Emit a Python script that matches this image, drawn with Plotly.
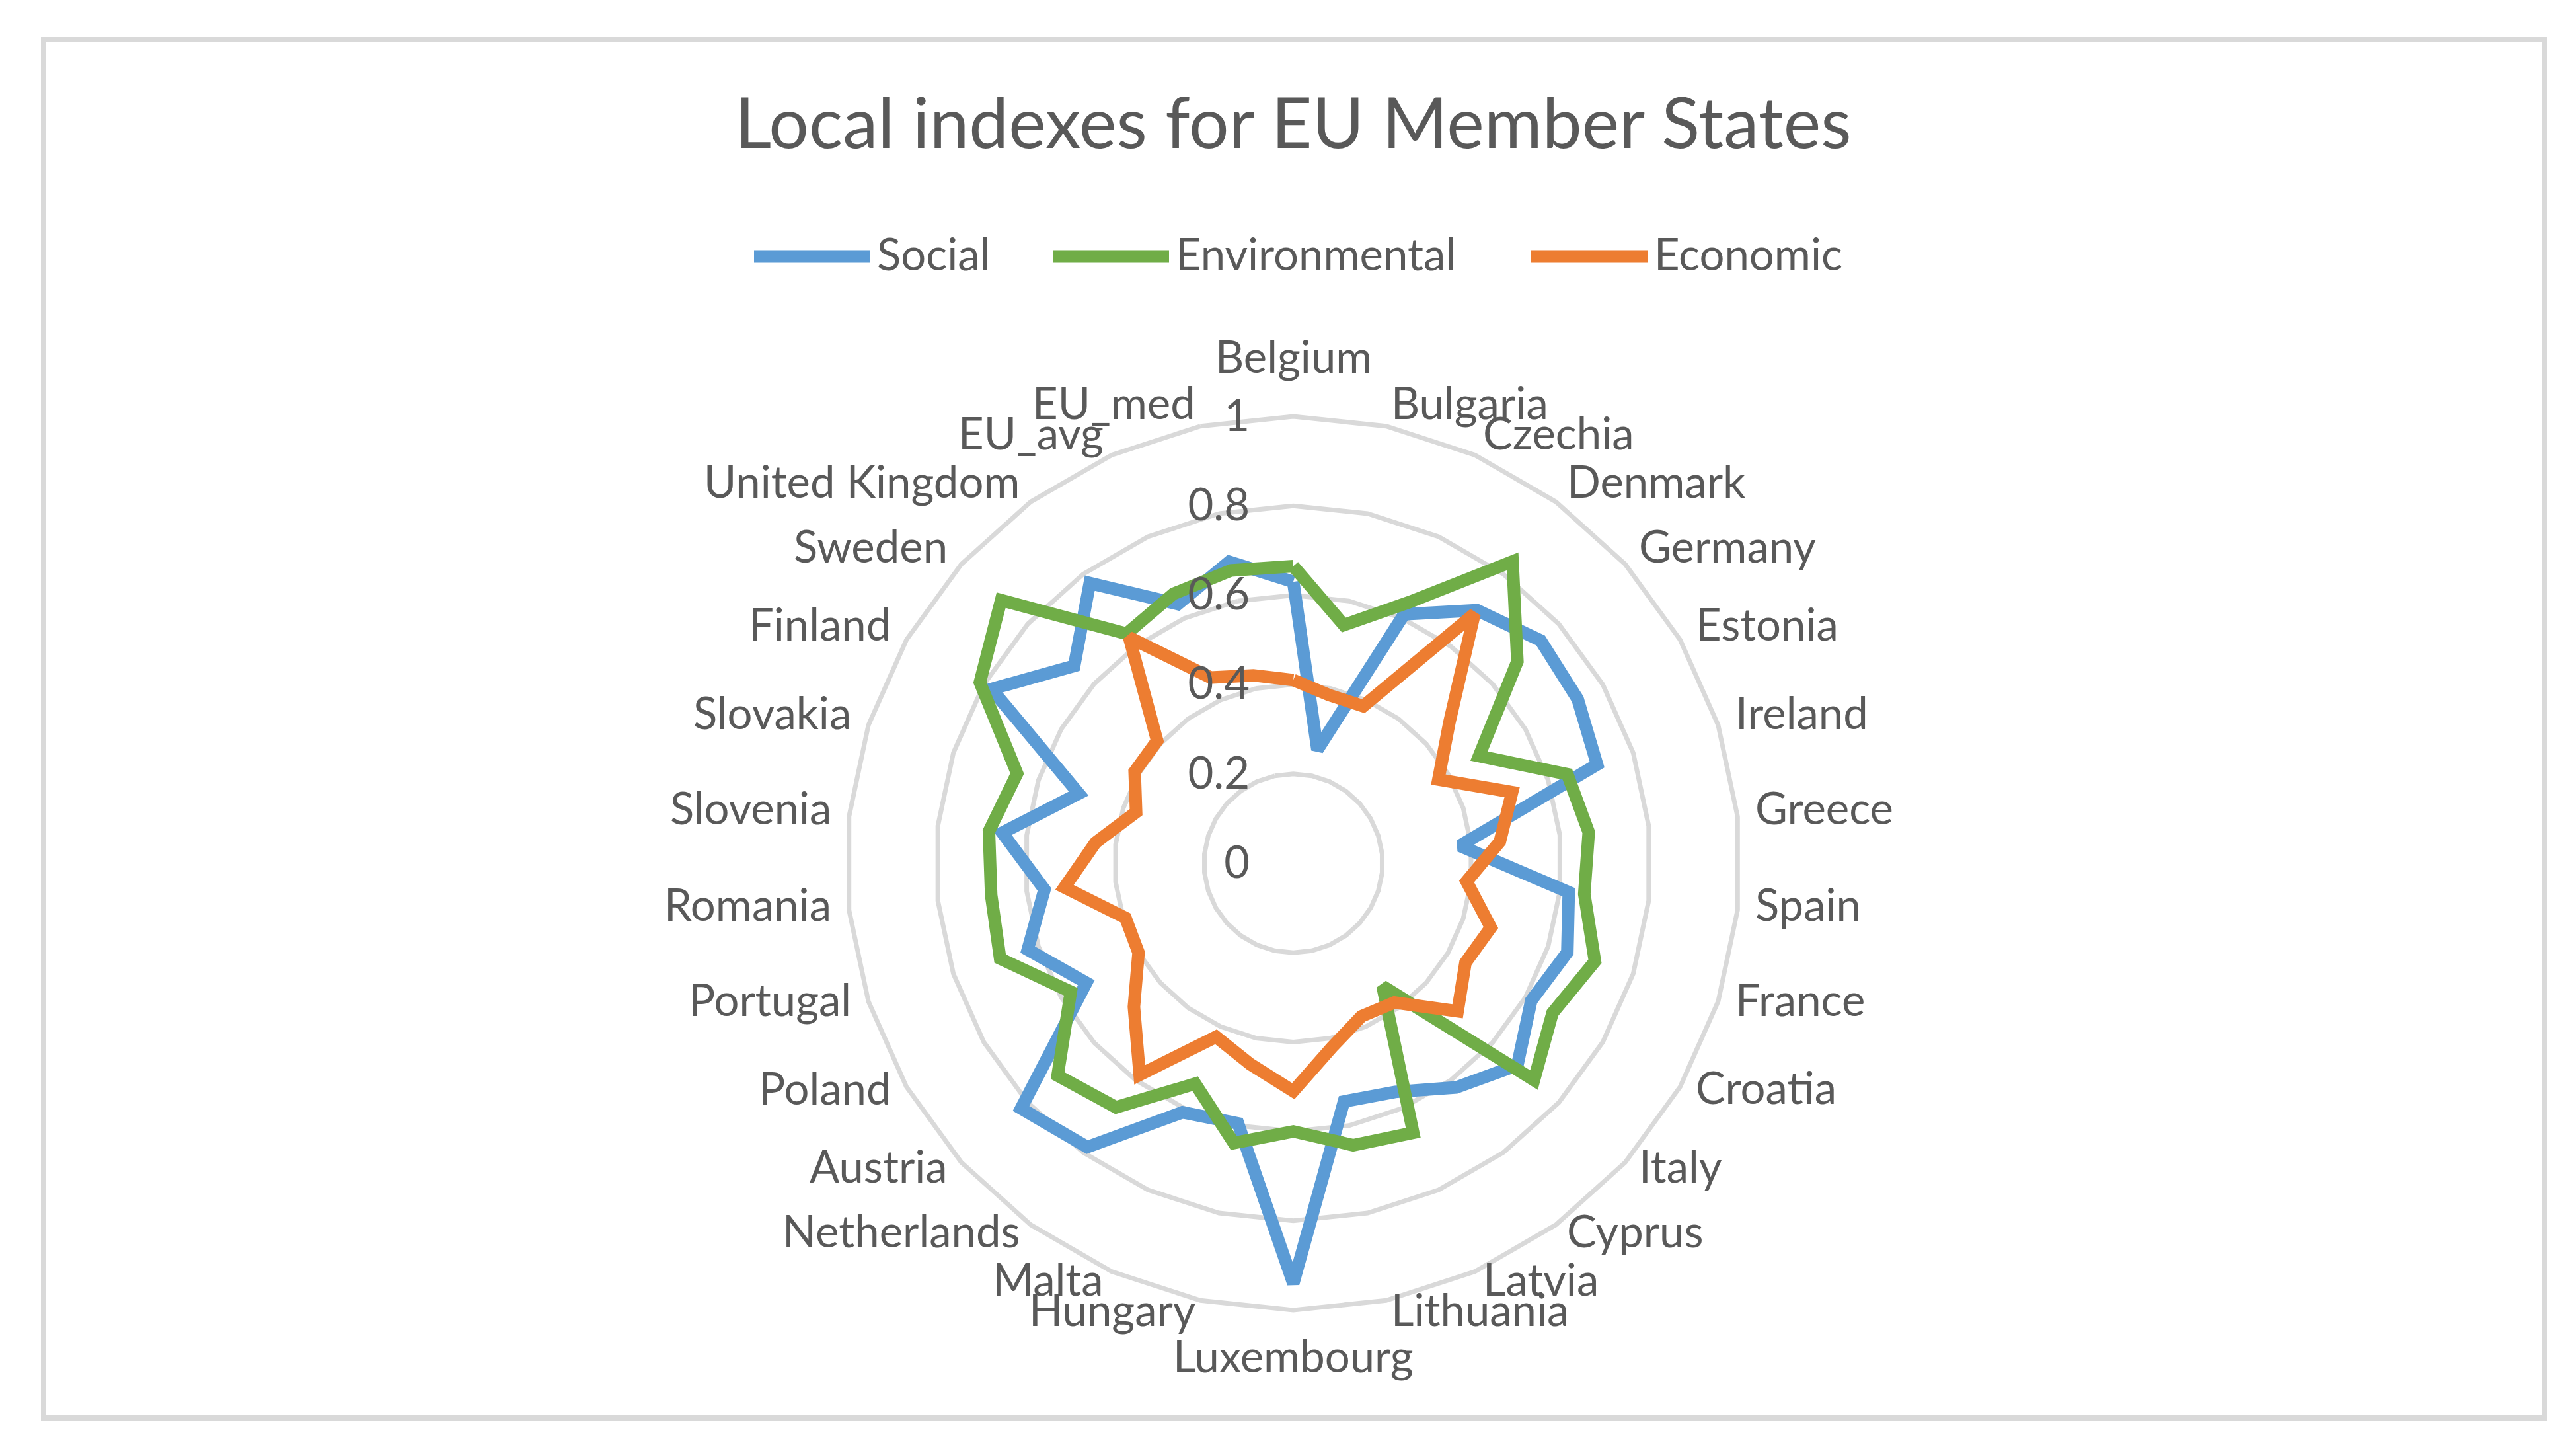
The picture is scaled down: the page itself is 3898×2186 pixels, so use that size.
import math

import plotly.graph_objects as go

# Categories (clockwise from top) and index values
countries = [
    "Belgium", "Bulgaria", "Czechia", "Denmark", "Germany", "Estonia",
    "Ireland", "Greece", "Spain", "France", "Croatia", "Italy", "Cyprus",
    "Latvia", "Lithuania", "Luxembourg", "Hungary", "Malta", "Netherlands",
    "Austria", "Poland", "Portugal", "Romania", "Slovenia", "Slovakia",
    "Finland", "Sweden", "United Kingdom", "EU_avg", "EU_med",
]
social = [
    0.63, 0.26, 0.61, 0.70, 0.745, 0.735, 0.715, 0.375, 0.62, 0.645,
    0.615, 0.675, 0.62, 0.56, 0.545, 0.94, 0.595, 0.61, 0.785, 0.82,
    0.535, 0.625, 0.56, 0.655, 0.505, 0.78, 0.66, 0.775, 0.635, 0.69,
]
environmental = [
    0.665, 0.545, 0.64, 0.835, 0.675, 0.48, 0.645, 0.665, 0.655, 0.71,
    0.67, 0.725, 0.34, 0.66, 0.645, 0.60, 0.64, 0.54, 0.675, 0.71,
    0.575, 0.69, 0.68, 0.685, 0.65, 0.81, 0.88, 0.635, 0.66, 0.67,
]
economic = [
    0.41, 0.385, 0.385, 0.69, 0.47, 0.375, 0.515, 0.465, 0.39, 0.465,
    0.445, 0.495, 0.385, 0.375, 0.42, 0.51, 0.46, 0.425, 0.585, 0.48,
    0.40, 0.395, 0.515, 0.445, 0.37, 0.41, 0.41, 0.625, 0.455, 0.43,
]
radial_ticks = [0, 0.2, 0.4, 0.6, 0.8, 1]

series = [
    ("Social", social, "#5B9BD5"),
    ("Environmental", environmental, "#70AD47"),
    ("Economic", economic, "#ED7D31"),
]

FONT = "Lato, 'Open Sans', sans-serif"
TEXT = "#595959"
GRID = "#D9D9D9"
W, H = 3898, 2186
LABEL_SIZE = 67

fig = go.Figure()

for name, values, color in series:
    # close the loop like a radar chart
    fig.add_trace(
        go.Scatterpolar(
            r=values + values[:1],
            theta=countries + countries[:1],
            mode="lines",
            name=name,
            line=dict(color=color, width=19),
            showlegend=False,
        )
    )

# polar placed by pixel centre/radius
cx, cy, rad = 1949, 1298, 676
fig.update_layout(
    polar=dict(
        domain=dict(
            x=[(cx - rad) / W, (cx + rad) / W],
            y=[(H - cy - rad) / H, (H - cy + rad) / H],
        ),
        gridshape="linear",
        bgcolor="white",
        radialaxis=dict(
            range=[0, 1],
            tickvals=radial_ticks,
            ticktext=[f"{v:g}" for v in radial_ticks],
            angle=90,
            tickangle=90,
            side="counterclockwise",
            showline=False,
            gridcolor=GRID,
            gridwidth=7,
            ticks="outside",
            ticklen=42,
            tickcolor="rgba(0,0,0,0)",
            tickfont=dict(size=LABEL_SIZE, color=TEXT, family=FONT),
        ),
        angularaxis=dict(
            rotation=90,
            direction="clockwise",
            showgrid=False,
            showline=True,
            linecolor=GRID,
            linewidth=7,
            showticklabels=False,
            ticks="",
        ),
    ),
    title=dict(
        text="Local indexes for EU Member States",
        font=dict(size=107, color=TEXT, family=FONT),
        x=0.5,
        xanchor="center",
        y=1 - 179 / H,
        yanchor="middle",
    ),
    width=W,
    height=H,
    margin=dict(l=0, r=0, t=0, b=0),
    paper_bgcolor="white",
    showlegend=False,
)

# category labels laid out the spreadsheet way: side labels hug the ring,
# top / bottom labels centred a bit further out
n = len(countries)
for i, name in enumerate(countries):
    ang = math.radians(i * 360 / n)
    s, c = math.sin(ang), math.cos(ang)
    if abs(s) < 1e-6:
        dist, xanchor = rad + 80, "center"
    else:
        dist, xanchor = rad + 25, ("left" if s > 0 else "right")
    px = cx + dist * s
    py = cy - dist * c - 12
    fig.add_annotation(
        x=px / W, y=1 - py / H, xref="paper", yref="paper",
        text=name, showarrow=False, xanchor=xanchor, yanchor="middle",
        font=dict(size=LABEL_SIZE, color=TEXT, family=FONT),
    )

# chart border
fig.add_shape(
    type="rect", xref="paper", yref="paper",
    x0=58 / W, x1=3842 / W, y0=1 - 2137 / H, y1=1 - 52 / H,
    line=dict(color=GRID, width=8), fillcolor="rgba(0,0,0,0)",
)

# legend drawn by hand: long swatch + label
legend_x = [(1133, 1309), (1585, 1761), (2309, 2485)]
ly = 1 - 380 / H
for (x0, x1), (name, _, color) in zip(legend_x, series):
    fig.add_shape(
        type="line", xref="paper", yref="paper",
        x0=x0 / W, x1=x1 / W, y0=ly, y1=ly,
        line=dict(color=color, width=19),
    )
    fig.add_annotation(
        x=(x1 + 8) / W, y=1 - 375 / H, xref="paper", yref="paper",
        text=name, showarrow=False, xanchor="left", yanchor="middle",
        font=dict(size=LABEL_SIZE, color=TEXT, family=FONT),
    )

fig.write_html("out.html")
